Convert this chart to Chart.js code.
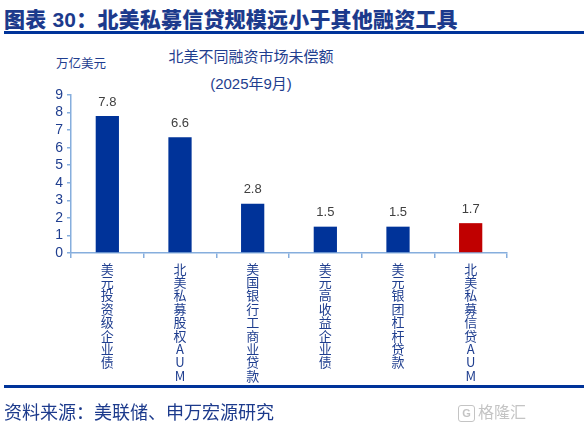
<!DOCTYPE html>
<html>
<head>
<meta charset="utf-8">
<script src="https://cdn.jsdelivr.net/npm/chart.js@4.4.1/dist/chart.umd.min.js"></script>
<style>
  html, body { margin:0; padding:0; background:#fff; }
  #wrap { position:relative; width:588px; height:426px; overflow:hidden; font-family:"Liberation Sans","Noto Sans CJK SC",sans-serif; }
  #title { position:absolute; left:4px; top:3px; font-size:21px; font-weight:900; color:#1C3A8C; white-space:nowrap; letter-spacing:0.2px; font-family:"Liberation Sans","Noto Sans CJK SC",sans-serif; }
  .rule { position:absolute; left:4px; width:580px; height:3px; background:#003399; }
  #sub1 { position:absolute; left:0; width:502px; text-align:center; top:45px; font-size:15px; color:#1F3E8F; }
  #sub2 { position:absolute; left:0; width:502px; text-align:center; top:72px; font-size:15px; color:#1F3E8F; }
  #unit { position:absolute; left:56px; top:53px; font-size:12.5px; color:#1F3E8F; }
  #source { position:absolute; left:4px; top:398px; font-size:18px; color:#1C3A8C; white-space:nowrap; }
  #wm { position:absolute; left:458px; top:399px; font-size:16px; color:#C4C4C4; white-space:nowrap; }
  #wm span { display:inline-block; width:15px; height:15px; border:1.5px solid #C4C4C4; border-radius:3px; font-size:11px; line-height:15px; text-align:center; vertical-align:middle; margin-right:3px; font-weight:bold; }
  #cv { position:absolute; left:0; top:0; }
</style>
</head>
<body>
<div id="wrap">
  <div id="title">图表 30：北美私募信贷规模远小于其他融资工具</div>
  <div class="rule" style="top:31px"></div>
  <div id="unit">万亿美元</div>
  <div id="sub1">北美不同融资市场未偿额</div>
  <div id="sub2">(2025年9月)</div>
  <canvas id="cv" width="588" height="426"></canvas>
  <div class="rule" style="top:385px"></div>
  <div id="source">资料来源：美联储、申万宏源研究</div>
  <div id="wm"><span>G</span>格隆汇</div>
</div>
<script>
const categories = ["美元投资级企业债", "北美私募股权AUM", "美国银行工商业贷款", "美元高收益企业债", "美元银团杠杆贷款", "北美私募信贷AUM"];
const values = [7.8, 6.6, 2.8, 1.5, 1.5, 1.7];
const barColors = ["#003399", "#003399", "#003399", "#003399", "#003399", "#C00000"];
const yMin = 0, yMax = 9, yStep = 1;

const labelLines = categories.map(c => Array.from(c));

const valueLabels = {
  id: 'valueLabels',
  afterDatasetsDraw(chart) {
    const ctx = chart.ctx;
    const meta = chart.getDatasetMeta(0);
    ctx.save();
    ctx.font = '13px "Liberation Sans", sans-serif';
    ctx.fillStyle = '#404040';
    ctx.textAlign = 'center';
    ctx.textBaseline = 'middle';
    meta.data.forEach((bar, i) => {
      ctx.fillText(values[i].toFixed(1), bar.x, bar.y - 14);
    });
    ctx.restore();
  }
};

new Chart(document.getElementById('cv'), {
  type: 'bar',
  data: {
    labels: labelLines,
    datasets: [{
      data: values,
      backgroundColor: barColors,
      borderWidth: 0,
      categoryPercentage: 1,
      barPercentage: 0.32
    }]
  },
  options: {
    responsive: false,
    animation: false,
    devicePixelRatio: 1,
    layout: { padding: { left: 0, right: 81, top: 95, bottom: 0 } },
    plugins: { legend: { display: false }, tooltip: { enabled: false }, title: { display: false } },
    scales: {
      x: {
        offset: true,
        border: { display: true, color: '#86AEDD', width: 1.5 },
        grid: { display: true, drawOnChartArea: false, drawTicks: true, tickLength: 5, color: '#86AEDD', lineWidth: 1.5, offset: true },
        ticks: {
          autoSkip: false, maxRotation: 0, minRotation: 0, padding: 4,
          color: '#1F3E8F',
          font: { family: '"Noto Sans CJK SC", "Liberation Sans", sans-serif', size: 13, lineHeight: 1.03 }
        },
        afterFit(s) { s.height = 426 - 253; }
      },
      y: {
        min: yMin, max: yMax,
        border: { display: true, color: '#86AEDD', width: 1.5 },
        grid: { display: true, drawOnChartArea: false, drawTicks: true, tickLength: 4, color: '#86AEDD', lineWidth: 1.5 },
        ticks: {
          stepSize: yStep, autoSkip: false, padding: 4, color: '#1F3E8F',
          font: { family: '"Liberation Sans", sans-serif', size: 14 }
        },
        afterFit(s) { s.width = 71; }
      }
    }
  },
  plugins: [valueLabels]
});
</script>
</body>
</html>
